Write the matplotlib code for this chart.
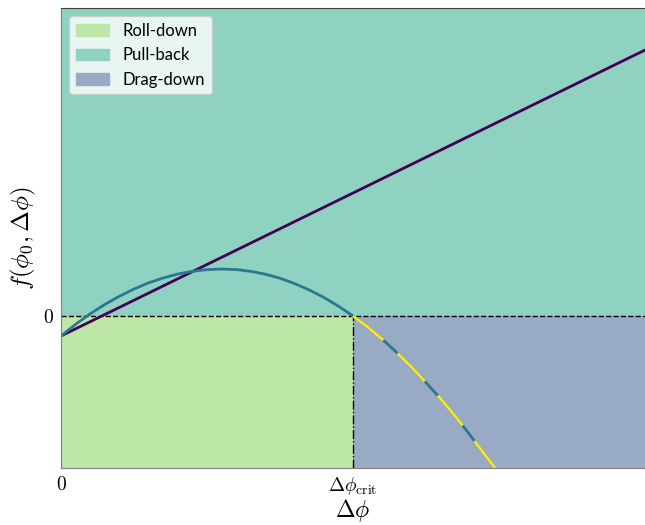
import matplotlib
matplotlib.use("Agg")
from matplotlib import pyplot as plt
from matplotlib.patches import Patch

plt.rcParams['mathtext.fontset'] = 'cm'
plt.rcParams['font.family'] = ['Lato', 'DejaVu Sans']

# curve (x in units of dphi_crit)
curve_x = [0.0, 0.05, 0.10, 0.15, 0.20, 0.25, 0.30, 0.35, 0.40, 0.45, 0.50,
           0.55, 0.60, 0.65, 0.70, 0.75, 0.80, 0.85, 0.90, 0.95, 1.0]
curve_y = [-0.139, -0.058, 0.015, 0.080, 0.137, 0.187, 0.230, 0.264, 0.291, 0.310, 0.322,
           0.326, 0.322, 0.310, 0.290, 0.262, 0.225, 0.181, 0.129, 0.068, 0.0]
tail_x = [1.0, 1.05, 1.10, 1.15, 1.20, 1.25, 1.30, 1.35, 1.40, 1.45, 1.50, 1.55]
tail_y = [0.0, -0.077, -0.161, -0.254, -0.354, -0.463, -0.575, -0.695, -0.825, -0.96,
          -1.09, -1.23]
line_x = [0.0, 2.0]
line_y = [-0.139, 1.847]

x_crit = 1.0
x_max = 2.0
y_min, y_max = -1.056, 2.139

labels = ['Roll-down', 'Pull-back', 'Drag-down']
colors = ['#bce7a7', '#8fd2c1', '#99abc4']

fig = plt.figure(figsize=(6.45, 5.25), dpi=100)
ax = fig.add_axes([61 / 645, 57 / 525, 584 / 645, 460 / 525])

ax.fill_between([0, x_max], 0, y_max, color=colors[1], lw=0)
ax.fill_between([0, x_crit], y_min, 0, color=colors[0], lw=0)
ax.fill_between([x_crit, x_max], y_min, 0, color=colors[2], lw=0)

ax.axhline(0, color='k', ls='--', lw=1)
ax.plot([x_crit, x_crit], [y_min, 0], color='k', ls='-.', lw=1)

ax.plot(line_x, line_y, color='#440154', lw=2)
ax.plot(curve_x, curve_y, color='#2a788e', lw=2)
ax.plot(tail_x, tail_y, color='#2a788e', lw=2)
ax.plot(tail_x, tail_y, color='#fde725', lw=2, dashes=(14, 7))

ax.set_xlim(0, x_max)
ax.set_ylim(y_min, y_max)
ax.set_xticks([0, x_crit])
ax.set_xticklabels(['$0$', r'$\Delta\phi_{\rm crit}$'], fontsize=14)
ax.set_yticks([0])
ax.set_yticklabels(['$0$'], fontsize=14)
ax.tick_params(length=0, pad=5)
ax.set_xlabel(r'$\Delta\phi$', fontsize=17, labelpad=0)
ax.set_ylabel(r'$f(\phi_0, \Delta\phi)$', fontsize=18)

for s in ['left', 'bottom']:
    ax.spines[s].set_color('#808080')
ax.spines['top'].set_color('#404040')
ax.spines['right'].set_visible(False)

handles = [Patch(color=c, label=l) for c, l in zip(colors, labels)]
ax.legend(handles=handles, loc='upper left', fontsize=12, framealpha=0.8)

fig.savefig('out.png', dpi=100)
